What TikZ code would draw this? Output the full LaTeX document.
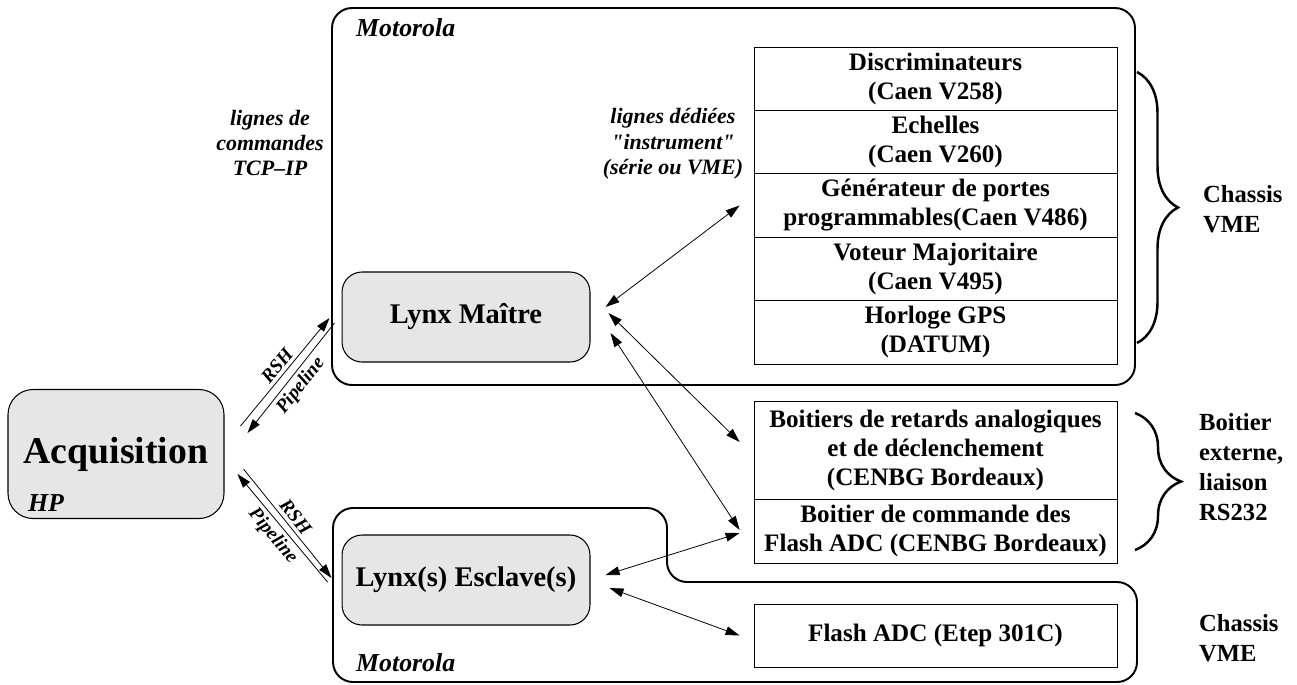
\documentclass[tikz,border=0pt]{standalone}
\usepackage{fontspec}
\setmainfont{Liberation Serif}
\definecolor{lynxgray}{RGB}{230,230,230}
\usetikzlibrary{arrows.meta,positioning,calc,decorations.pathreplacing}

\begin{document}
\begin{tikzpicture}[
  x=0.02cm, y=-0.02cm,
  every node/.style={font=\bfseries},
  lynxbox/.style={draw,rounded corners=0.4cm,fill=lynxgray,line width=0.6pt,
                  minimum width=4.96cm,minimum height=1.8cm,inner sep=0pt,
                  font=\fontsize{16.2}{19}\selectfont\bfseries},
  modrow/.style={draw,line width=0.5pt,minimum width=7.26cm,inner sep=0pt,align=center,
                 font=\fontsize{14.3}{16.5}\selectfont\bfseries},
  frame/.style={line width=1.1pt,rounded corners=0.4cm},
  note/.style={align=center,font=\fontsize{12.5}{14.5}\selectfont\bfseries\itshape},
  side/.style={anchor=west,align=left,font=\fontsize{14}{17}\selectfont\bfseries},
  tag/.style={font=\fontsize{14.7}{17}\selectfont\bfseries\itshape},
  wire/.style={font=\fontsize{11}{13}\selectfont\bfseries\itshape,inner sep=2pt},
  link/.style={{Triangle[length=8pt,width=5pt]}-{Triangle[length=8pt,width=5pt]},line width=0.45pt},
  oneway/.style={-{Triangle[length=8pt,width=5pt]},line width=0.45pt},
  curly/.style={decorate,line width=1.4pt},
]
  \useasboundingbox (0,0) rectangle (1297,684);

  % Motorola frames
  \draw[frame] (332,8) rectangle (1135,385);
  \draw[frame] (333,682) -- (333,508) -- (667,508) -- (667,582) -- (1137,582) -- (1137,682) -- cycle;
  \node[tag,anchor=west] (motoup) at (350,28) {Motorola};
  \node[tag,anchor=west] (motodown) at (350,663) {Motorola};

  % Acquisition (HP)
  \node[lynxbox,rounded corners=0.5cm,minimum width=4.32cm,minimum height=2.58cm,
        font=\fontsize{21.5}{24}\selectfont\bfseries] (acq) at (116,454) {Acquisition};
  \node[tag] (hp) at (46,503) {HP};

  % Lynx
  \node[lynxbox] (maitre) at (466,317) {Lynx Maître};
  \node[lynxbox] (esclave) at (466,580) {Lynx(s) Esclave(s)};

  % Chassis VME
  \node[modrow,minimum height=1.268cm] (disc) at (935.5,78.7) {Discriminateurs\\(Caen V258)};
  \node[modrow,minimum height=1.268cm] (ech) at (935.5,142.1) {Echelles\\(Caen V260)};
  \node[modrow,minimum height=1.268cm] (gen) at (935.5,205.5) {Générateur de portes\\programmables(Caen V486)};
  \node[modrow,minimum height=1.268cm] (vot) at (935.5,268.9) {Voteur Majoritaire\\(Caen V495)};
  \node[modrow,minimum height=1.268cm] (gps) at (935.5,332.3) {Horloge GPS\\(DATUM)};

  % Boitier externe
  \node[modrow,minimum height=1.96cm] (retard) at (935.5,450) {Boitiers de retards analogiques\\et de déclenchement\\(CENBG Bordeaux)};
  \node[modrow,minimum height=1.28cm] (cmd) at (935.5,531) {Boitier de commande des\\Flash ADC (CENBG Bordeaux)};

  % Flash ADC
  \node[modrow,minimum height=1.26cm] (flash) at (935.5,635.5) {Flash ADC (Etep 301C)};

  % braces and side labels
  \draw[curly,decoration={brace,amplitude=0.82cm}] (1137,72) -- (1137,343);
  \draw[curly,decoration={brace,amplitude=0.92cm}] (1135,413) -- (1135,550);
  \node[side] (chassisup) at (1197,209) {Chassis\\VME};
  \node[side] (boitext) at (1193,467) {Boitier\\externe,\\liaison\\RS232};
  \node[side] (chassisdown) at (1193,638) {Chassis\\VME};

  % line notes
  \node[note] (tcp) at (270,143) {lignes de\\commandes\\TCP--IP};
  \node[note] (instr) at (673,144) {lignes dédiées\\\textquotedbl instrument\textquotedbl\\(série ou VME)};

  % RSH / Pipeline
  \draw[oneway] ($(acq.east)+(16,-28)$) -- node[wire,sloped,above] {RSH} ($(maitre.west)+(-12,1)$);
  \draw[oneway] ($(maitre.west)+(-7,6)$) -- node[wire,sloped,below] {Pipeline} ($(acq.east)+(23,-21)$);
  \draw[oneway] ($(acq.east)+(19,15)$) -- node[wire,sloped,above] {RSH} ($(esclave.west)+(-10,-2)$);
  \draw[oneway] ($(esclave.west)+(-14,2)$) -- node[wire,sloped,below] {Pipeline} ($(acq.east)+(13,20)$);

  % instrument lines
  \draw[link] ($(maitre.east)+(15,-10)$) -- ($(gen.west)+(-14,0)$);
  \draw[link] ($(maitre.east)+(18,-4)$) -- ($(retard.west)+(-14,-8)$);
  \draw[link] ($(maitre.east)+(20,16)$) -- ($(cmd.west)+(-14,-1)$);
  \draw[link] ($(esclave.east)+(15,-5)$) -- ($(cmd.west)+(-14,2)$);
  \draw[link] ($(esclave.east)+(19,8)$) -- ($(flash.west)+(-14,0)$);
\end{tikzpicture}
\end{document}
